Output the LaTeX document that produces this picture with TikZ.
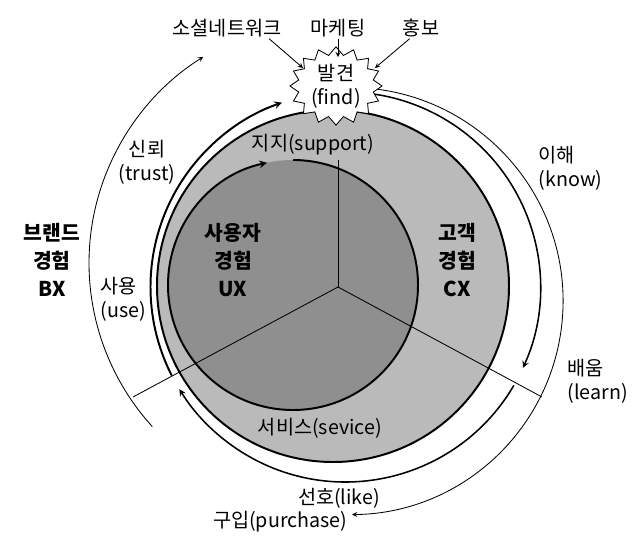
\documentclass[tikz,border=0pt]{standalone}
\usepackage{fontspec}
\setmainfont{Noto Sans CJK KR}
\usetikzlibrary{shapes.symbols}
\definecolor{cxgrey}{RGB}{186,186,186}
\definecolor{uxgrey}{RGB}{143,143,143}
\tikzset{>=stealth}

\begin{document}
\begin{tikzpicture}[x=0.025cm, y=0.025cm,
  font=\fontsize{14}{17}\selectfont,
  thinline/.style={line width=0.6pt},
  midline/.style={line width=1.1pt},
  thickline/.style={line width=1.4pt},
  txt/.style={inner sep=1pt, align=center},
  bigtxt/.style={inner sep=1pt, align=center, font=\fontsize{14.5}{20}\selectfont\bfseries}]
\useasboundingbox (0,0) rectangle (633,-541);
% centres of the circles
\coordinate (O) at (338,-287);
\coordinate (cx) at (333,-286);
\coordinate (ux) at (293,-285);
\coordinate (ring) at (345.5,-287);
\coordinate (buy) at (349.5,-301);
\coordinate (bx) at (332,-263);
% free ends of the three spokes
\coordinate (spoketop) at (338,-160);
\coordinate (spokeright) at (542,-397);
\coordinate (spokeleft) at (133,-397);
% grey discs
\fill[cxgrey] (cx) circle[radius=176];
\draw[thickline] (cx) circle[radius=176];
\fill[uxgrey] (ux) circle[radius=125];
\draw[thickline,->] (ux) ++(90:125) arc[start angle=90, end angle=-258, radius=125];
\draw[thinline] (O) -- (spoketop);
\draw[thinline] (O) -- (spokeright);
\draw[thinline] (O) -- (spokeleft);
% the journey arcs
\draw[midline,->] (ring) ++(88:195) arc[start angle=88, end angle=-24.5, radius=195];
\draw[midline,->] (ring) ++(-30.3:195) arc[start angle=-30.3, end angle=-148.4, radius=195];
\draw[thickline,->] (ring) ++(207:195) arc[start angle=207, end angle=109, radius=195];
\draw[thinline,->] (buy) ++(86:213.6) arc[start angle=86, end angle=-89.3, radius=213.6];
\draw[thinline,->] (bx) ++(222.3:243) arc[start angle=222.3, end angle=122, radius=243];
% find
\node[starburst, starburst points=16, starburst point height=0.2cm, random starburst=0,
  fill=white, draw, thinline, minimum width=2.3cm, minimum height=1.575cm,
  inner sep=0pt, align=center] (find) at (336,-86) {발견\\(find)};
\coordinate (findnw) at (303,-68);
\coordinate (findn) at (338,-57);
\coordinate (findne) at (375,-68);
\node[txt] (social) at (227,-28) {소셜네트워크};
\node[txt] (marketing) at (338,-28) {마케팅};
\node[txt] (hongbo) at (421,-28) {홍보};
\draw[thinline,->] ([xshift=-10pt]social.south east) -- (findnw);
\draw[thinline,->] (marketing.south) -- (findn);
\draw[thinline,->] ([xshift=6pt]hongbo.south west) -- (findne);
% labels
\node[txt] (support) at (313,-145) {지지(support)};
\node[txt] (trust) at (147,-162) {신뢰\\(trust)};
\node[txt, align=left, anchor=west] (use) at (99,-299) {사용\\(use)};
\node[txt, align=left, anchor=west] (know) at (537,-168) {이해\\(know)};
\node[txt, align=left, anchor=west] (learn) at (566,-381) {배움\\(learn)};
\node[txt] (service) at (320,-428) {서비스(sevice)};
\node[txt] (like) at (339,-498) {선호(like)};
\node[txt, anchor=east] (purchase) at (349,-522) {구입(purchase)};
\node[bigtxt] (bxlabel) at (52,-260) {브랜드\\경험\\BX};
\node[bigtxt] (uxlabel) at (233,-260) {사용자\\경험\\UX};
\node[bigtxt] (cxlabel) at (457,-260) {고객\\경험\\CX};
\end{tikzpicture}
\end{document}
